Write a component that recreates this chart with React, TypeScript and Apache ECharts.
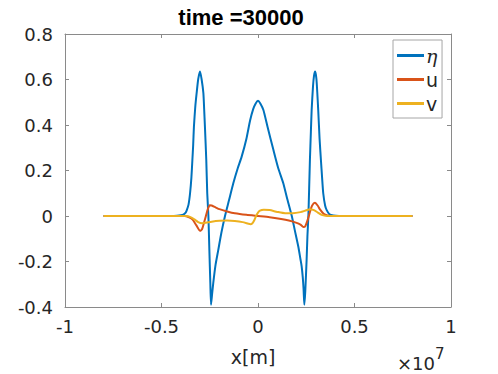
import React, { useEffect, useRef } from "react";
import * as echarts from "echarts";

// x positions in units of 1e7 m
const etaX = [-0.8, -0.45, -0.42, -0.4, -0.387, -0.375, -0.369, -0.36, -0.352, -0.345, -0.34, -0.336, -0.332, -0.325, -0.318, -0.31, -0.3005, -0.292, -0.283, -0.279, -0.275, -0.268, -0.263, -0.257, -0.252, -0.247, -0.2435, -0.238, -0.232, -0.22, -0.206, -0.19, -0.171, -0.15, -0.128, -0.105, -0.085, -0.06, -0.041, -0.025, -0.012, 0, 0.012, 0.028, 0.05, 0.08, 0.105, 0.131, 0.15, 0.175, 0.19, 0.209, 0.22, 0.226, 0.232, 0.236, 0.24, 0.245, 0.252, 0.256, 0.261, 0.265, 0.269, 0.274, 0.278, 0.285, 0.29, 0.296, 0.303, 0.312, 0.319, 0.326, 0.332, 0.338, 0.348, 0.356, 0.37, 0.39, 0.42, 0.8];
const etaY = [0, 0, 0.001, 0.003, 0.006, 0.015, 0.026, 0.05, 0.1, 0.17, 0.246, 0.31, 0.393, 0.48, 0.54, 0.6, 0.635, 0.6, 0.54, 0.47, 0.393, 0.246, 0.1, 0, -0.15, -0.296, -0.39, -0.345, -0.296, -0.215, -0.15, -0.075, 0, 0.07, 0.144, 0.21, 0.26, 0.34, 0.42, 0.47, 0.495, 0.507, 0.495, 0.466, 0.39, 0.29, 0.21, 0.144, 0.08, 0, -0.06, -0.135, -0.19, -0.22, -0.27, -0.32, -0.39, -0.33, -0.19, -0.09, 0, 0.12, 0.246, 0.37, 0.466, 0.57, 0.615, 0.635, 0.6, 0.466, 0.34, 0.246, 0.17, 0.1, 0.045, 0.026, 0.008, 0.002, 0, 0];

const uX = [-0.8, -0.38, -0.36, -0.34, -0.32, -0.3, -0.29, -0.28, -0.27, -0.26, -0.25, -0.24, -0.22, -0.2, -0.16, -0.12, -0.06, 0, 0.06, 0.12, 0.16, 0.2, 0.22, 0.235, 0.245, 0.26, 0.27, 0.28, 0.295, 0.31, 0.32, 0.34, 0.36, 0.38, 0.8];
const uY = [0, 0, -0.005, -0.015, -0.04, -0.065, -0.058, -0.03, 0, 0.03, 0.047, 0.046, 0.038, 0.03, 0.02, 0.012, 0.005, 0, -0.005, -0.013, -0.02, -0.03, -0.038, -0.048, -0.045, -0.01, 0.02, 0.045, 0.058, 0.045, 0.03, 0.01, 0.002, 0, 0];

const vX = [-0.8, -0.37, -0.35, -0.33, -0.31, -0.29, -0.27, -0.24, -0.2, -0.16, -0.12, -0.08, -0.05, -0.04, -0.03, -0.02, -0.01, 0, 0.01, 0.03, 0.06, 0.1, 0.14, 0.18, 0.22, 0.25, 0.27, 0.29, 0.31, 0.33, 0.35, 0.37, 0.8];
const vY = [0, 0, -0.005, -0.015, -0.027, -0.032, -0.03, -0.025, -0.021, -0.02, -0.022, -0.027, -0.034, -0.036, -0.033, -0.02, 0, 0.015, 0.024, 0.028, 0.026, 0.018, 0.012, 0.012, 0.017, 0.025, 0.03, 0.026, 0.015, 0.005, 0.001, 0, 0];

const xTicks = { min: -1, max: 1, interval: 0.5 };
const yTicks = { min: -0.4, max: 0.8, interval: 0.2 };
const seriesNames = ["η", "u", "v"];
const seriesColors = ["#0072BD", "#D95319", "#EDB120"];
const titleText = "time =30000";
const xLabel = "x[m]";

const zip = (xs: number[], ys: number[]) => xs.map((x, i) => [x, ys[i]]);

const FONT = "DejaVu Sans";
const TXT = "#262626";
const AX = "#8a8a8a";

export default function App() {
  const ref = useRef<HTMLDivElement>(null);
  useEffect(() => {
    if (!ref.current) return;
    const chart = echarts.init(ref.current, null, { renderer: "svg" });
    const axisCommon = {
      type: "value" as const,
      axisLine: { show: true, onZero: false, lineStyle: { color: AX, width: 1 } },
      axisTick: { show: true, inside: true, length: 4, lineStyle: { color: AX } },
      splitLine: { show: false },
    };
    const datas = [zip(etaX, etaY), zip(uX, uY), zip(vX, vY)];
    chart.setOption({
      animation: false,
      backgroundColor: "#ffffff",
      grid: { left: 65, right: 47, top: 34, bottom: 67, containLabel: false },
      xAxis: [
        {
          ...axisCommon,
          ...xTicks,
          position: "bottom",
          axisLabel: { show: true, margin: 10, color: TXT, fontFamily: FONT, fontSize: 18 },
        },
        {
          ...axisCommon,
          ...xTicks,
          position: "top",
          axisLabel: { show: false },
        },
      ],
      yAxis: [
        {
          ...axisCommon,
          ...yTicks,
          position: "left",
          axisLabel: { show: true, margin: 12, color: TXT, fontFamily: FONT, fontSize: 18 },
        },
        {
          ...axisCommon,
          ...yTicks,
          position: "right",
          axisLabel: { show: false },
        },
      ],
      legend: {
        orient: "vertical",
        left: 393,
        top: 40,
        width: 50,
        padding: [6, 4, 5, 4],
        itemGap: 5,
        itemWidth: 27,
        itemHeight: 3,
        icon: "rect",
        itemStyle: { borderWidth: 0 },
        borderColor: "#a6a6a6",
        borderWidth: 1,
        backgroundColor: "#ffffff",
        data: seriesNames,
        formatter: (name: string) => (name === "η" ? "{e|η}" : name),
        textStyle: {
          fontFamily: FONT,
          fontSize: 19,
          color: TXT,
          padding: [0, 0, 0, -3],
          rich: { e: { fontFamily: "DejaVu Serif", fontStyle: "italic", fontSize: 19, color: TXT } },
        },
      },
      graphic: [
        {
          type: "text",
          x: 241,
          y: 17,
          style: {
            text: titleText,
            fontFamily: "Liberation Sans",
            fontWeight: "bold",
            fontSize: 22,
            fill: "#000000",
            textAlign: "center",
            textVerticalAlign: "middle",
          },
        },
        {
          type: "text",
          x: 253,
          y: 357,
          style: {
            text: xLabel,
            fontFamily: FONT,
            fontSize: 19,
            fill: TXT,
            textAlign: "center",
            textVerticalAlign: "middle",
          },
        },
        {
          type: "text",
          x: 397,
          y: 363,
          style: {
            text: "×10",
            fontFamily: FONT,
            fontSize: 18,
            fill: TXT,
            textAlign: "left",
            textVerticalAlign: "middle",
          },
        },
        {
          type: "text",
          x: 435,
          y: 354,
          style: {
            text: "7",
            fontFamily: FONT,
            fontSize: 15,
            fill: TXT,
            textAlign: "left",
            textVerticalAlign: "middle",
          },
        },
      ],
      series: seriesNames.map((name, i) => ({
        name,
        type: "line",
        xAxisIndex: 0,
        yAxisIndex: 0,
        data: datas[i],
        showSymbol: false,
        symbol: "none",
        smooth: 0.2,
        lineStyle: { color: seriesColors[i], width: 2 },
        itemStyle: { color: seriesColors[i] },
        z: 2 + i,
      })),
    });
    return () => chart.dispose();
  }, []);
  return (
    <div
      ref={ref}
      style={{ position: "absolute", left: 0, top: 0, width: 498, height: 374, background: "#fff" }}
    />
  );
}
